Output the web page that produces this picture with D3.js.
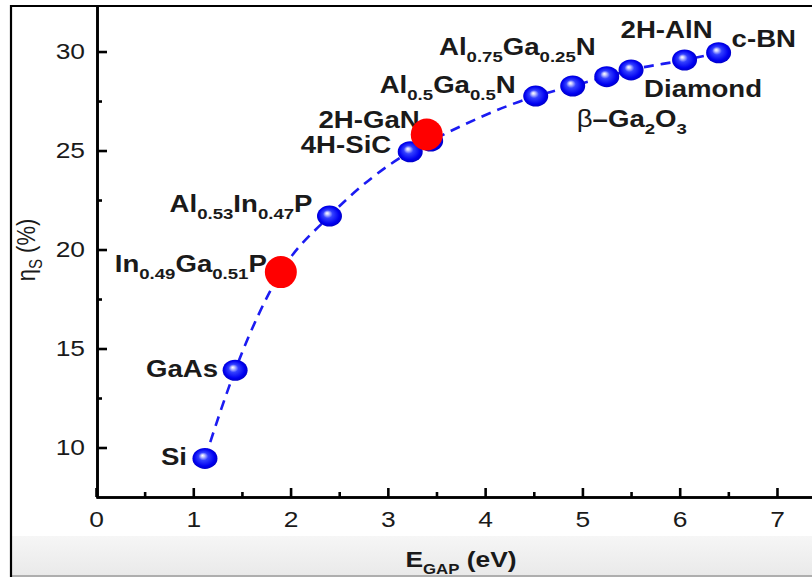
<!DOCTYPE html>
<html>
<head>
<meta charset="utf-8">
<script src="https://cdn.jsdelivr.net/npm/d3@7"></script>
<style>
  body { margin: 0; background: #fff; }
  svg { display: block; font-family: "Liberation Sans", Arial, sans-serif; }
</style>
</head>
<body>
<div id="chart"></div>
<script>
// Data
var materials = ["Si", "GaAs", "In_{0.49}Ga_{0.51}P", "Al_{0.53}In_{0.47}P", "4H-SiC", "2H-GaN",
                 "Al_{0.5}Ga_{0.5}N", "Al_{0.75}Ga_{0.25}N", "β–Ga_{2}O_{3}", "Diamond", "2H-AlN", "c-BN"];
var egap = [1.12, 1.43, 1.90, 2.40, 3.23, 3.44, 4.52, 4.90, 5.25, 5.50, 6.05, 6.40];
var efficiency = [9.45, 13.9, 18.86, 21.69, 24.94, 25.48, 27.75, 28.26, 28.73, 29.07, 29.57, 29.94];
var highlightGap = [1.90, 3.40];
var highlightEff = [18.86, 25.81];
var xTicks = [0, 1, 2, 3, 4, 5, 6, 7];
var yTicks = [10, 15, 20, 25, 30];

// Label placement relative to each point (layout only)
var labelLayout = [
    {dx: -18, dy: 7, anchor: "end"},
    {dx: -17, dy: 7, anchor: "end"},
    {dx: -14, dy: 0, anchor: "end"},
    {dx: -17, dy: -4, anchor: "end"},
    {dx: -19, dy: 1, anchor: "end"},
    {dx: -11, dy: -13, anchor: "end"},
    {dx: -20, dy: -3, anchor: "end"},
    {dx: 23, dy: -31, anchor: "end"},
    {dx: -30, dy: 50, anchor: "start"},
    {dx: 13, dy: 27, anchor: "start"},
    {dx: 28, dy: -22, anchor: "end"},
    {dx: 13, dy: -6, anchor: "start"}
];

var W = 812, H = 577;
var stretch = 1.2;   // the original picture is stretched horizontally

var svg = d3.select("#chart").append("svg")
    .attr("width", W)
    .attr("height", H);

var defs = svg.append("defs");

var ball = defs.append("radialGradient")
    .attr("id", "ball")
    .attr("cx", "50%").attr("cy", "50%").attr("r", "55%")
    .attr("fx", "40%").attr("fy", "36%");
ball.append("stop").attr("offset", "0%").attr("stop-color", "#ffffff");
ball.append("stop").attr("offset", "12%").attr("stop-color", "#c9ccff");
ball.append("stop").attr("offset", "35%").attr("stop-color", "#3340ff");
ball.append("stop").attr("offset", "75%").attr("stop-color", "#0000f0");
ball.append("stop").attr("offset", "100%").attr("stop-color", "#0000b8");

var band = defs.append("linearGradient")
    .attr("id", "band")
    .attr("x1", 0).attr("y1", 0).attr("x2", 0).attr("y2", 1);
band.append("stop").attr("offset", "0%").attr("stop-color", "#f6f6f6");
band.append("stop").attr("offset", "100%").attr("stop-color", "#e9e9e9");

// Background and the grey band at the bottom
svg.append("rect").attr("width", W).attr("height", H).attr("fill", "#fff");
svg.append("rect")
    .attr("x", 12).attr("y", 536)
    .attr("width", W - 12).attr("height", H - 536)
    .attr("fill", "url(#band)");
svg.append("line")
    .attr("x1", 12).attr("x2", W).attr("y1", 576).attr("y2", 576)
    .attr("stroke", "#9a9a9a").attr("stroke-width", 1.5);

// Outer frame (left and top edges visible)
svg.append("path")
    .attr("d", "M11," + H + "V6H" + W)
    .attr("fill", "none")
    .attr("stroke", "#000")
    .attr("stroke-width", 2.2);

// Scales
var x = d3.scaleLinear().domain([0, 7.36]).range([96, 812]);
var y = d3.scaleLinear().domain([7.5, 32.3]).range([497, 6]);

// Axes with inward ticks
var xAxis = d3.axisBottom(x)
    .tickValues(xTicks)
    .tickFormat(d3.format("d"))
    .tickSize(-9)
    .tickSizeOuter(0)
    .tickPadding(14);

var xMinor = d3.axisBottom(x)
    .tickValues(d3.range(0.5, 7, 1))
    .tickFormat("")
    .tickSize(-5)
    .tickSizeOuter(0);

var yAxis = d3.axisLeft(y)
    .tickValues(yTicks)
    .tickFormat(d3.format("d"))
    .tickSize(-10)
    .tickSizeOuter(0)
    .tickPadding(12);

var yMinor = d3.axisLeft(y)
    .tickValues([12.5, 17.5, 22.5, 27.5])
    .tickFormat("")
    .tickSize(-5)
    .tickSizeOuter(0);

function styleAxis(g) {
    g.select(".domain").attr("stroke", "#000").attr("stroke-width", 2.6);
    g.selectAll(".tick line").attr("stroke", "#000").attr("stroke-width", 2.6);
    g.selectAll(".tick text")
        .attr("fill", "#1a1a1a")
        .style("font-size", "22px");
}

svg.append("g").attr("transform", "translate(0,497)").call(xMinor).call(styleAxis);
var gx = svg.append("g").attr("transform", "translate(0,497)").call(xAxis).call(styleAxis);
gx.selectAll(".tick text").attr("transform", "scale(" + stretch + ",1)");

svg.append("g").attr("transform", "translate(97,0)").call(yMinor).call(styleAxis);
var gy = svg.append("g").attr("transform", "translate(97,0)").call(yAxis).call(styleAxis);
gy.selectAll(".tick text")
    .attr("x", 0)
    .attr("transform", "translate(-12,0) scale(" + stretch + ",1)");

// Writes text with _{sub} parts as subscripts
function richText(sel, str, size, subSize, bold) {
    var parts = str.split(/(_\{[^}]*\})/).filter(function(p) { return p.length; });
    var lowered = false;
    parts.forEach(function(p) {
        var isSub = p.indexOf("_{") === 0;
        var t = sel.append("tspan")
            .text(isSub ? p.slice(2, -1) : p)
            .style("font-size", (isSub ? subSize : size) + "px")
            .style("font-weight", bold ? "bold" : "normal");
        if (isSub && !lowered) { t.attr("dy", 7); lowered = true; }
        else if (!isSub && lowered) { t.attr("dy", -7); lowered = false; }
        if (p === "β–Ga") {
            t.text("–Ga");
            sel.insert("tspan", function() { return t.node(); })
                .text("β")
                .style("font-size", size + "px")
                .style("font-weight", "normal");
        }
    });
}

// Dashed trend line through the points
var pts = egap.map(function(d, i) { return [d, efficiency[i]]; });
var line = d3.line()
    .x(function(d) { return x(d[0]); })
    .y(function(d) { return y(d[1]); })
    .curve(d3.curveMonotoneX);

svg.append("path")
    .datum(pts)
    .attr("d", line)
    .attr("fill", "none")
    .attr("stroke", "#1b1bf2")
    .attr("stroke-width", 2.6)
    .attr("stroke-dasharray", "10,7");

// Spheres
svg.append("g").selectAll("ellipse")
    .data(pts)
    .enter()
    .append("ellipse")
    .attr("cx", function(d) { return x(d[0]); })
    .attr("cy", function(d) { return y(d[1]); })
    .attr("rx", 12.5)
    .attr("ry", 10.5)
    .attr("fill", "url(#ball)");

// Material labels
var labels = svg.append("g").attr("fill", "#1a1a1a");
materials.forEach(function(name, i) {
    var L = labelLayout[i];
    var g = labels.append("g")
        .attr("transform", "translate(" + (x(egap[i]) + L.dx) + "," + (y(efficiency[i]) + L.dy) +
              ") scale(" + stretch + ",1)");
    var t = g.append("text").attr("text-anchor", L.anchor);
    richText(t, name, 23, 15.5, true);
});

// Axis titles
var xt = svg.append("g")
    .attr("transform", "translate(461,567) scale(" + stretch + ",1)")
    .append("text")
    .attr("text-anchor", "middle")
    .attr("fill", "#1a1a1a");
richText(xt, "E_{GAP} (eV)", 22, 14, true);

var yt = svg.append("g")
    .attr("transform", "translate(35,250) rotate(-90) scale(1," + stretch + ")")
    .append("text")
    .attr("text-anchor", "middle")
    .attr("fill", "#1a1a1a");
yt.append("tspan").text("η").style("font-size", "22px");
yt.append("tspan").text("S").attr("dy", 6).style("font-size", "15px");
yt.append("tspan").text(" (%)").attr("dy", -6).style("font-size", "22px");

// Red highlight markers
svg.append("g").selectAll("circle")
    .data(highlightGap)
    .enter()
    .append("circle")
    .attr("cx", function(d) { return x(d); })
    .attr("cy", function(d, i) { return y(highlightEff[i]); })
    .attr("r", 16)
    .attr("fill", "#ff0000");
</script>
</body>
</html>
